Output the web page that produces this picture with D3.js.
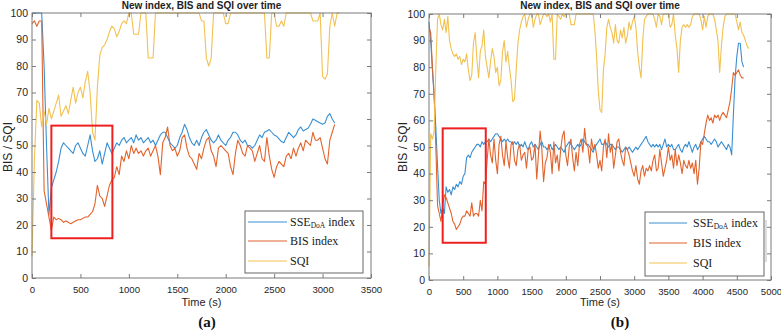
<!DOCTYPE html>
<html>
<head>
<meta charset="utf-8">
<script src="https://cdn.jsdelivr.net/npm/d3@7"></script>
<style>
  body { margin: 0; background: #fff; }
  svg { display: block; font-family: "Liberation Sans", Arial, sans-serif; }
</style>
</head>
<body>
<svg id="chart" width="781" height="331"></svg>
<script>
// ---- panel (a) samples, one every stepA seconds ----
const stepA = 25;
const sseA = [100,100,100,100,100,80,50,24,34,37,
  40,44,49,51,50,49,48,47,50,51,
  49,47,46,50,54,48,44,45,48,43,
  47,51,49,47,49,51,50,52,53,51,
  52,53,51,54,52,53,51,52,53,51,
  52,50,52,54,55,55,53,51,50,49,
  50,53,55,58,56,53,51,50,52,50,
  53,55,56,54,52,51,52,54,52,51,
  50,52,53,55,55,54,52,51,52,50,
  50,49,50,52,54,53,55,55.5,56,55,
  54,53.5,52.5,51.5,51,53,55,54,53,54,
  56,57,55.5,56,56.5,58,60,59.5,59,58.5,
  58,58.5,61,62,60,58.5];
const bisA = [96,97,95,97,97,33,28,23,18,23,
  22,22.5,22,21,21.5,21,20.5,21,21.5,22,
  22,22.5,23,23,24,25,28,35,31,30,
  27,31,35,37,38,42,39,46,44,48,
  45,50,47,49,47,48,46,48,49,46,
  48,50,46,39,51,53,57,50,48,49,
  46,48,53,54,49,46,45,43,41,47,
  45,49,52,53,48,46,42,49,50,49,
  48,47,42,39,47,52,50,47,46,50,
  49,48,44,47,50,45,44,53,46,41,
  38,42,44,43,42,46,47,45,49,46,
  49,51,48,52,51,50,55,52,52,53,
  49,45,43,52,55,58];
const sqiA = [8,45,67,66,57,63,58,64,60,63,
  66,69,61,63,65,62,67,72,66,70,
  72,68,74,78,70,55,52,72,84,87,
  88,90,93,95,94,91,93,96,97,96,
  100,100,92,92,92,100,100,100,83,83,
  83,100,100,100,100,100,100,100,100,100,
  100,100,100,100,100,100,100,100,100,100,
  97,97,83,80,83,100,100,100,100,100,
  96,96,100,100,100,100,100,100,100,100,
  100,100,100,100,100,100,100,83,83,100,
  100,95,95,97,95,100,100,100,100,100,
  100,100,100,100,100,100,97,97,97,100,
  76,75,77,95,100,95,100,100];

// ---- panel (b) samples ----
const stepB = 25;
const sseB = [97,90,79,69,57,43,30,25,27,25,
  35,33,34,32,35,34,36,35,37,36,
  39,40,46,47,46,48,49,50,51,51,
  50,52,51,52,52,53,52,53,54,55,
  55,54,53,52,53,52,53,52,52,51,
  52,51,52,50,51,50,52,50,49,51,
  52,50,51,50,49,51,52,50,50,49,
  50,51,49,50,51,50,49,50,49,48,
  50,51,52,51,50,49,50,51,50,51,
  53,52,51,51,50,49,48,50,51,52,
  53,51,51,52,51,50,51,51,50,49,
  50,50,49,48,49,50,49,50,49,48,
  49,50,49,50,51,52,53,54,52,51,
  50,51,50,51,50,51,49,51,53,50,
  51,50,51,49,49,50,51,49,48,50,
  51,50,52,50,48,50,51,49,50,52,
  53,54,53,52,52,51,52,53,52,50,
  51,52,51,50,49,51,50,47,62,76,
  84,89,89,82,80];
const bisB = [95,93,80,70,50,28,25,22,28,32,
  31,29,27,25,22,21,19,20,21,23,
  24,24,26,25,24,29,24,25,25,24,
  30,26,37,36,45,53,47,44,53,45,
  40,51,54,47,43,52,46,42,51,52,
  45,43,49,51,45,47,48,42,49,50,
  45,46,51,38,47,56,49,37,44,46,
  51,48,40,52,44,47,41,49,54,56,
  47,43,50,53,46,41,48,43,51,53,
  48,57,51,50,44,53,49,51,47,42,
  45,41,50,53,46,55,48,51,42,47,
  52,53,48,45,43,50,49,47,44,41,
  39,43,38,36,41,43,39,42,41,43,
  41,45,47,41,42,49,44,39,42,45,
  50,45,47,42,49,43,47,44,40,45,
  43,42,45,42,44,40,45,36,42,52,
  51,55,59,62,60,61,59,62,61,62,
  60,62,63,62,61,64,67,72,78,77,
  78,79,77,76,76];
const sqiB = [5,55,53,56,80,98,100,96,94,98,
  93,99,90,87,85,84,85,83,84,81,
  83,82,85,79,75,77,89,93,83,76,
  86,88,94,84,80,76,82,87,84,78,
  80,73,75,86,90,82,86,80,75,67,
  68,79,89,94,97,99,100,95,98,100,
  100,95,98,100,100,96,98,100,100,99,
  100,97,100,83,83,100,99,98,100,99,
  100,100,100,96,96,96,100,100,100,100,
  100,100,100,100,100,100,100,94,84,71,
  64,63,79,85,95,98,95,93,89,96,
  90,89,94,91,95,89,92,97,94,97,
  99,95,86,80,76,90,98,99,100,100,
  100,100,98,95,100,99,96,100,100,100,
  100,95,96,100,92,87,78,90,95,96,
  95,96,95,96,99,100,100,100,100,98,
  94,99,95,99,100,100,100,98,94,90,
  78,88,95,99,100,100,100,100,100,100,
  97,94,97,93,92,90,88,87];

const xTicksA = [0, 500, 1000, 1500, 2000, 2500, 3000, 3500];
const xTicksB = [0, 500, 1000, 1500, 2000, 2500, 3000, 3500, 4000, 4500, 5000];
const yTicks = [0, 10, 20, 30, 40, 50, 60, 70, 80, 90, 100];

// highlighted window: [t start, t end, low, high]
const zoomBoxA = [200, 830, 15, 57.5];
const zoomBoxB = [200, 830, 14, 57];

const colors = { sse: '#3a8fd3', bis: '#e2632c', sqi: '#f2c150' };
const axisGrey = '#7a7a7a';

const svg = d3.select('#chart');

function drawPanel(p) {
  const x = d3.scaleLinear().domain([0, p.xMax]).range([p.left, p.right]);
  const y = d3.scaleLinear().domain([0, 100]).range([p.bottom, p.top]);

  const g = svg.append('g');

  // series
  const series = [
    { vals: p.sse, step: p.step, color: colors.sse },
    { vals: p.bis, step: p.step, color: colors.bis },
    { vals: p.sqi, step: p.step, color: colors.sqi }
  ];
  const line = d3.line()
    .x((d, i) => x(i * p.step))
    .y(d => y(d));

  g.selectAll('path.series')
    .data(series)
    .join('path')
    .attr('class', 'series')
    .attr('d', s => line(s.vals))
    .attr('fill', 'none')
    .attr('stroke', s => s.color)
    .attr('stroke-width', 1.1)
    .attr('stroke-linejoin', 'round');

  // axes, ticks pointing inward
  const styleAxis = size => sel => {
    sel.select('.domain').remove();
    sel.selectAll('.tick line').attr('stroke', axisGrey);
    sel.selectAll('.tick text').attr('fill', '#262626').attr('font-size', size);
  };

  g.append('g')
    .attr('transform', `translate(0,${p.bottom})`)
    .call(d3.axisBottom(x).tickValues(p.xTicks).tickFormat(d3.format('d')).tickSize(-4).tickPadding(8))
    .call(styleAxis(9.6));
  g.append('g')
    .attr('transform', `translate(0,${p.top})`)
    .call(d3.axisTop(x).tickValues(p.xTicks).tickSize(-4).tickFormat(''))
    .call(styleAxis(9.6));
  g.append('g')
    .attr('transform', `translate(${p.left},0)`)
    .call(d3.axisLeft(y).tickValues(yTicks).tickSize(-4).tickPadding(4))
    .call(styleAxis(10.5));
  g.append('g')
    .attr('transform', `translate(${p.right},0)`)
    .call(d3.axisRight(y).tickValues(yTicks).tickSize(-4).tickFormat(''))
    .call(styleAxis(10.5));

  g.append('rect')
    .attr('x', p.left)
    .attr('y', p.top)
    .attr('width', p.right - p.left)
    .attr('height', p.bottom - p.top)
    .attr('fill', 'none')
    .attr('stroke', axisGrey)
    .attr('stroke-width', 1);

  // red highlight window
  g.append('rect')
    .attr('x', x(p.box[0]))
    .attr('y', y(p.box[3]))
    .attr('width', x(p.box[1]) - x(p.box[0]))
    .attr('height', y(p.box[2]) - y(p.box[3]))
    .attr('fill', 'none')
    .attr('stroke', '#ee2020')
    .attr('stroke-width', 2);

  // title and axis labels
  g.append('text')
    .text('New index, BIS and SQI over time')
    .attr('x', (p.left + p.right) / 2)
    .attr('y', 9)
    .attr('text-anchor', 'middle')
    .attr('font-size', 10)
    .attr('font-weight', 'bold')
    .attr('fill', '#222');

  g.append('text')
    .text('Time (s)')
    .attr('x', (p.left + p.right) / 2)
    .attr('y', 306)
    .attr('text-anchor', 'middle')
    .attr('font-size', 11)
    .attr('fill', '#262626');

  g.append('text')
    .text('BIS / SQI')
    .attr('transform', `translate(${p.yLabelX},147) rotate(-90)`)
    .attr('text-anchor', 'middle')
    .attr('font-size', 12)
    .attr('fill', '#262626');

  g.append('text')
    .text(p.tag)
    .attr('x', p.tagX)
    .attr('y', 327)
    .attr('text-anchor', 'middle')
    .attr('font-family', '"Liberation Serif", "Times New Roman", serif')
    .attr('font-weight', 'bold')
    .attr('font-size', 15)
    .attr('fill', '#111');

  // legend
  const lg = p.legend;
  g.append('rect')
    .attr('x', lg.x0)
    .attr('y', lg.y0)
    .attr('width', lg.x1 - lg.x0)
    .attr('height', lg.y1 - lg.y0)
    .attr('fill', '#fff')
    .attr('stroke', '#666')
    .attr('stroke-width', 1);

  const entries = [
    { key: 'sse', label: 'SSE', sub: 'DoA', rest: ' index' },
    { key: 'bis', label: 'BIS index' },
    { key: 'sqi', label: 'SQI' }
  ];
  entries.forEach((e, i) => {
    const ry = lg.rows[i];
    g.append('line')
      .attr('x1', lg.lineX0).attr('x2', lg.lineX1)
      .attr('y1', ry).attr('y2', ry)
      .attr('stroke', colors[e.key])
      .attr('stroke-width', 1.1);
    const t = g.append('text')
      .attr('x', lg.textX)
      .attr('y', ry + 4)
      .attr('font-family', '"Liberation Serif", "Times New Roman", serif')
      .attr('font-size', 12)
      .attr('fill', '#222');
    t.append('tspan').text(e.label);
    if (e.sub) {
      t.append('tspan').text(e.sub).attr('font-size', 7.5).attr('dy', 2);
      t.append('tspan').text(e.rest).attr('dy', -2);
    }
  });
  if (lg.edgeX) {
    g.append('line')
      .attr('x1', lg.edgeX).attr('x2', lg.edgeX)
      .attr('y1', lg.y0 + 8).attr('y2', lg.y1 - 14)
      .attr('stroke', '#bbb')
      .attr('stroke-width', 1);
  }
}

drawPanel({
  left: 32, right: 371, top: 13, bottom: 278,
  xMax: 3500, xTicks: xTicksA, step: stepA,
  sse: sseA, bis: bisA, sqi: sqiA, box: zoomBoxA,
  yLabelX: 12, tag: '(a)', tagX: 207,
  legend: { x0: 245, x1: 363, y0: 211, y1: 273, lineX0: 248, lineX1: 287, textX: 290, rows: [222, 241, 261] }
});

drawPanel({
  left: 429, right: 771, top: 14, bottom: 280,
  xMax: 5000, xTicks: xTicksB, step: stepB,
  sse: sseB, bis: bisB, sqi: sqiB, box: zoomBoxB,
  yLabelX: 407, tag: '(b)', tagX: 620,
  legend: { x0: 645, x1: 764, y0: 212, y1: 276, lineX0: 649, lineX1: 687, textX: 693, rows: [223, 243, 263], edgeX: 766 }
});
</script>
</body>
</html>
